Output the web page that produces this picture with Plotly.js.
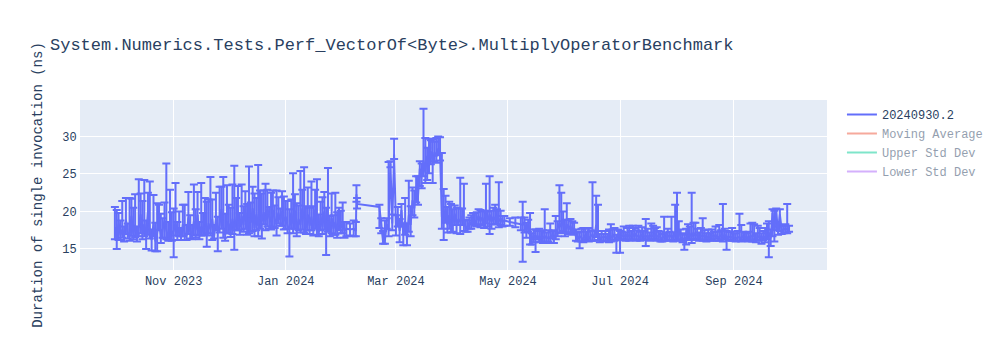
<!DOCTYPE html>
<html>
<head>
<meta charset="utf-8">
<script src="https://cdn.plot.ly/plotly-3.0.1.min.js"></script>
<style>html,body{margin:0;padding:0;background:#fff;}#chart{width:1000px;height:350px;}</style>
</head>
<body>
<div id="chart"></div>
<script>
// Run dates (one point per run)
const dates = [
"2023-09-30","2023-10-01","2023-10-02","2023-10-03","2023-10-04","2023-10-05","2023-10-06","2023-10-07","2023-10-08","2023-10-09","2023-10-10","2023-10-11","2023-10-12","2023-10-13","2023-10-14","2023-10-15","2023-10-16","2023-10-17","2023-10-18","2023-10-19","2023-10-20","2023-10-21","2023-10-22","2023-10-23","2023-10-24","2023-10-25","2023-10-26","2023-10-27","2023-10-28","2023-10-29","2023-10-30","2023-10-31",
"2023-11-01","2023-11-02","2023-11-03","2023-11-04","2023-11-05","2023-11-06","2023-11-07","2023-11-08","2023-11-09","2023-11-10","2023-11-11","2023-11-12","2023-11-13","2023-11-14","2023-11-15","2023-11-16","2023-11-17","2023-11-18","2023-11-19","2023-11-20","2023-11-21","2023-11-22","2023-11-23","2023-11-24","2023-11-25","2023-11-26","2023-11-27","2023-11-28","2023-11-29","2023-11-30",
"2023-12-01","2023-12-02","2023-12-03","2023-12-04","2023-12-05","2023-12-06","2023-12-07","2023-12-08","2023-12-09","2023-12-10","2023-12-11","2023-12-12","2023-12-13","2023-12-14","2023-12-15","2023-12-16","2023-12-17","2023-12-18","2023-12-19","2023-12-20","2023-12-21","2023-12-22","2023-12-23","2023-12-24","2023-12-25","2023-12-26","2023-12-27","2023-12-28","2023-12-29","2023-12-30","2023-12-31",
"2024-01-01","2024-01-02","2024-01-03","2024-01-04","2024-01-05","2024-01-06","2024-01-07","2024-01-08","2024-01-09","2024-01-10","2024-01-11","2024-01-12","2024-01-13","2024-01-14","2024-01-15","2024-01-16","2024-01-17","2024-01-18","2024-01-19","2024-01-20","2024-01-21","2024-01-22","2024-01-23","2024-01-24","2024-01-25","2024-01-26","2024-01-27","2024-01-28","2024-01-29","2024-01-30","2024-01-31",
"2024-02-01","2024-02-02","2024-02-03","2024-02-05","2024-02-07","2024-02-08 04:00","2024-02-08 12:00","2024-02-08 20:00","2024-02-21","2024-02-22","2024-02-23","2024-02-24","2024-02-25","2024-02-26","2024-02-27","2024-02-28","2024-02-29",
"2024-03-01","2024-03-02","2024-03-03","2024-03-04","2024-03-05","2024-03-06","2024-03-07","2024-03-08","2024-03-09","2024-03-10","2024-03-11","2024-03-12","2024-03-13","2024-03-14","2024-03-15","2024-03-16","2024-03-17","2024-03-18","2024-03-19","2024-03-20","2024-03-21","2024-03-22","2024-03-23","2024-03-24","2024-03-25","2024-03-26","2024-03-27","2024-03-28","2024-03-29","2024-03-30","2024-03-31",
"2024-04-01","2024-04-02","2024-04-03","2024-04-04","2024-04-05","2024-04-06","2024-04-07","2024-04-08","2024-04-09","2024-04-10","2024-04-11","2024-04-12","2024-04-13","2024-04-14","2024-04-15","2024-04-16","2024-04-17","2024-04-18","2024-04-19","2024-04-20","2024-04-21","2024-04-22","2024-04-23","2024-04-24","2024-04-25","2024-04-26","2024-04-27","2024-04-28","2024-04-29",
"2024-05-02","2024-05-05","2024-05-08","2024-05-09","2024-05-10","2024-05-11","2024-05-12","2024-05-13","2024-05-14","2024-05-15","2024-05-16","2024-05-17","2024-05-18","2024-05-19","2024-05-20","2024-05-21","2024-05-22","2024-05-23","2024-05-24","2024-05-25","2024-05-26","2024-05-27","2024-05-28","2024-05-29","2024-05-30","2024-05-31",
"2024-06-01","2024-06-02","2024-06-03","2024-06-04","2024-06-05","2024-06-06","2024-06-07","2024-06-08","2024-06-09","2024-06-10","2024-06-11","2024-06-12","2024-06-13","2024-06-14","2024-06-15","2024-06-16","2024-06-17","2024-06-18","2024-06-19","2024-06-20","2024-06-21","2024-06-22","2024-06-23","2024-06-24","2024-06-25","2024-06-26","2024-06-27","2024-06-28","2024-06-29","2024-06-30",
"2024-07-01","2024-07-02","2024-07-03","2024-07-04","2024-07-05","2024-07-06","2024-07-07","2024-07-08","2024-07-09","2024-07-10","2024-07-11","2024-07-12","2024-07-13","2024-07-14","2024-07-15","2024-07-16","2024-07-17","2024-07-18","2024-07-19","2024-07-20","2024-07-21","2024-07-22","2024-07-23","2024-07-24","2024-07-25","2024-07-26","2024-07-27","2024-07-28","2024-07-29","2024-07-30","2024-07-31",
"2024-08-01","2024-08-02","2024-08-03","2024-08-04","2024-08-05","2024-08-06","2024-08-07","2024-08-08","2024-08-09","2024-08-10","2024-08-11","2024-08-12","2024-08-13","2024-08-14","2024-08-15","2024-08-16","2024-08-17","2024-08-18","2024-08-19","2024-08-20","2024-08-21","2024-08-22","2024-08-23","2024-08-24","2024-08-25","2024-08-26","2024-08-27","2024-08-28","2024-08-29","2024-08-30","2024-08-31",
"2024-09-01","2024-09-02","2024-09-03","2024-09-04","2024-09-05","2024-09-06","2024-09-07","2024-09-08","2024-09-09","2024-09-10","2024-09-11","2024-09-12","2024-09-13","2024-09-14","2024-09-15","2024-09-16","2024-09-17","2024-09-18","2024-09-19","2024-09-20","2024-09-21","2024-09-22","2024-09-23","2024-09-24","2024-09-25","2024-09-26","2024-09-27","2024-09-28","2024-09-29","2024-09-30","2024-10-01"
];

// Duration of single invocation (ns)
const durations = [
17.9,16.3,18.6,16.8,17.6,16.5,18.9,17.2,16.6,19.4,17.0,18.2,16.4,17.9,19.6,16.9,18.3,16.6,20.1,17.3,16.2,18.4,16.0,17.1,19.0,16.4,17.6,18.8,17.5,16.6,18.2,17.0,
17.4,18.6,16.8,17.9,16.5,18.3,17.0,16.7,19.2,17.3,16.9,18.7,17.5,19.5,16.8,18.0,17.2,19.8,16.9,18.4,17.6,19.0,16.7,18.9,17.4,18.2,20.3,17.8,16.9,18.6,
18.3,17.2,19.0,17.6,18.8,20.1,17.9,19.4,18.2,20.6,17.5,19.1,18.5,20.4,17.8,19.6,18.1,20.9,18.7,19.9,18.4,20.5,19.2,18.6,20.2,19.0,18.5,19.8,18.9,20.0,18.7,
19.3,18.0,17.6,19.8,18.4,20.1,17.5,19.0,18.2,20.4,18.9,17.8,19.6,18.1,19.3,17.4,20.2,18.5,17.2,19.4,17.9,20.0,17.5,18.8,17.3,19.1,17.7,18.6,17.4,18.9,17.8,
18.6,17.4,17.7,17.6,17.7,17.4,22.3,21.0,20.6,17.9,15.9,16.2,18.3,17.5,26.4,18.4,27.6,
18.0,19.6,17.4,20.2,16.9,18.7,16.4,19.5,18.2,21.5,20.4,23.2,22.0,25.7,24.6,26.8,25.2,27.4,26.1,28.0,26.7,27.9,27.3,28.4,27.8,19.3,18.4,20.6,18.2,19.5,18.0,
18.6,19.7,18.3,19.0,18.6,19.4,18.4,18.0,17.8,18.6,18.3,19.1,18.5,18.9,19.4,18.7,19.2,18.5,19.8,18.8,19.6,18.6,19.3,18.9,19.5,18.7,19.1,18.6,18.8,
18.6,18.5,18.3,18.2,18.4,17.4,18.3,16.6,16.2,16.9,16.4,16.8,16.3,16.6,16.5,16.7,16.4,16.6,16.5,16.8,16.3,16.9,17.6,18.5,17.9,18.8,
17.4,18.3,17.6,18.1,17.3,17.8,16.6,16.4,16.7,16.5,16.3,16.8,16.6,16.4,16.7,16.9,16.5,18.2,16.8,16.4,16.6,16.5,16.7,16.4,16.6,16.5,16.8,16.6,16.4,16.9,
16.6,16.7,16.9,16.5,17.0,16.6,16.8,16.7,17.1,16.6,16.8,16.5,16.9,16.7,16.6,16.8,16.5,16.9,16.7,17.0,16.6,16.8,16.5,16.4,16.7,16.5,16.8,16.6,16.9,16.4,17.3,
16.7,17.5,16.6,16.4,16.3,16.5,16.8,17.0,16.6,17.2,16.7,16.9,16.5,16.8,16.6,16.9,16.4,16.7,16.5,16.8,16.6,16.9,16.5,16.7,16.8,16.6,16.9,16.4,16.7,16.5,16.6,
16.5,16.4,16.5,16.6,16.4,16.7,16.5,16.6,16.4,16.8,16.6,16.9,16.3,16.6,16.8,16.2,16.7,16.5,16.8,17.2,16.4,19.8,17.5,20.0,17.4,19.6,17.6,17.5,17.8,17.6,17.7
];

// Upper error (ns above the point)
const errorPlus = [
2.7,3.9,1.2,2.0,3.8,1.5,2.9,1.2,5.2,2.3,3.5,4.1,1.6,6.4,2.8,4.5,5.9,2.2,2.4,6.7,1.4,3.8,2.5,4.0,1.9,3.3,1.5,2.4,8.9,2.0,4.7,2.9,
3.0,5.2,1.8,2.1,1.3,2.6,3.9,1.5,3.4,2.2,1.3,4.9,2.8,3.1,1.8,5.8,2.6,2.0,4.4,3.2,7.0,2.6,1.5,3.6,1.9,5.1,3.0,6.8,2.8,4.9,
2.6,3.3,4.6,8.5,3.0,3.3,1.9,4.2,2.5,2.1,3.5,6.9,2.7,2.9,4.6,2.2,8.1,1.9,3.7,2.9,5.3,2.4,1.4,3.9,2.6,1.8,4.3,2.1,1.5,2.7,3.3,
2.1,3.4,2.7,1.8,6.7,2.2,3.6,1.8,7.2,2.5,7.0,2.9,3.6,2.4,4.7,3.3,2.7,5.8,2.4,1.9,4.0,2.6,3.0,7.0,2.1,3.3,1.8,3.9,2.5,1.6,2.3,
2.6,1.2,0.9,0.8,1.1,1.2,1.2,0.8,0.3,1.2,1.5,2.6,0.8,9.1,0.3,1.2,2.1,
1.5,1.0,1.6,0.8,1.5,3.1,2.0,4.6,2.5,1.7,2.4,1.5,2.7,1.0,1.8,6.9,4.6,1.1,3.6,1.5,2.9,1.4,2.5,1.6,2.1,8.5,4.6,1.5,2.4,1.8,3.0,
1.7,1.1,2.2,1.4,5.9,1.0,5.3,0.9,1.0,0.6,1.2,0.7,1.3,1.0,0.9,1.5,0.8,1.6,3.9,1.2,5.1,1.5,1.2,2.0,0.8,5.2,1.0,0.8,0.6,
0.5,0.7,0.9,3.1,0.8,1.1,0.6,3.2,0.9,0.7,1.2,0.6,1.4,0.8,1.0,3.6,0.8,0.9,1.9,0.6,1.2,2.5,1.1,5.0,4.6,1.2,
1.5,2.8,1.3,0.9,1.4,0.7,1.0,0.8,0.6,1.2,1.5,0.9,0.7,1.4,0.8,7.0,0.9,3.9,4.1,0.6,0.8,0.5,0.7,0.6,1.0,1.8,0.8,1.2,0.5,0.7,
0.8,0.6,1.1,0.7,0.8,1.5,0.6,1.4,0.7,0.9,1.3,0.8,1.0,0.7,2.4,0.9,0.7,1.5,1.4,0.8,1.3,0.6,0.8,0.6,2.6,0.7,0.9,0.7,2.4,0.8,3.6,
5.8,1.2,1.0,0.7,0.6,1.2,1.5,1.0,5.9,1.3,1.8,0.8,0.7,1.0,2.5,0.6,0.7,0.9,0.6,0.8,0.7,1.1,0.8,1.5,0.7,4.4,0.8,1.0,0.6,0.8,1.2,
0.6,0.7,0.9,3.1,1.8,0.6,0.7,0.5,0.9,1.6,1.9,1.4,0.8,1.5,1.0,0.9,0.7,1.3,1.6,1.5,1.2,0.5,2.6,0.4,0.6,0.7,0.5,0.6,0.5,3.4,0.4
];

// Lower error (ns below the point)
const errorMinus = [
1.6,1.3,2.4,0.6,1.1,0.5,1.9,0.8,0.5,2.6,0.7,1.6,0.4,1.2,2.5,0.6,1.6,1.6,3.2,0.9,1.4,1.7,1.3,2.4,1.5,0.6,1.1,2.3,1.2,0.5,2.0,0.9,
3.5,1.8,0.6,1.2,0.3,1.6,0.8,0.5,2.2,0.9,0.6,1.9,1.0,2.6,0.5,1.2,0.4,2.9,1.6,1.3,0.8,2.8,0.3,1.4,2.7,1.0,2.6,1.3,0.8,1.5,
1.2,0.6,2.0,2.7,1.3,2.6,1.0,1.8,0.9,2.9,0.6,2.0,1.2,3.0,1.1,2.1,1.4,3.2,2.3,1.6,0.9,2.5,1.5,1.0,2.2,1.2,1.7,1.4,0.8,1.9,1.1,
1.6,0.9,3.6,2.1,1.3,2.4,0.8,1.5,1.0,2.8,1.7,0.8,2.1,1.1,1.8,0.6,2.5,1.6,0.5,1.9,0.9,2.4,3.3,1.5,0.6,2.0,0.8,1.7,0.9,1.4,0.7,
1.5,0.9,1.0,0.8,1.0,0.7,1.0,0.6,2.8,0.8,0.2,0.5,0.6,0.8,0.5,0.9,0.6,
1.2,1.6,1.5,2.2,1.4,1.8,0.9,2.2,1.5,2.0,1.2,2.0,1.1,2.3,1.5,2.1,1.4,3.2,1.0,1.7,2.9,1.2,0.8,0.9,1.0,1.6,2.2,2.1,1.0,1.8,0.8,
1.3,1.5,1.2,0.8,1.6,1.2,1.0,0.7,0.5,0.9,0.6,0.8,0.4,0.9,1.1,0.8,1.0,0.7,1.4,0.8,2.6,0.9,1.0,0.6,1.2,0.8,0.9,0.6,0.7,
0.5,0.6,0.8,4.9,1.2,0.9,1.0,1.0,0.6,1.0,1.8,0.5,0.4,0.6,0.7,0.9,0.5,0.6,0.7,0.4,0.5,0.6,0.9,1.3,0.8,1.4,
0.7,1.1,0.6,0.9,0.4,0.8,0.5,0.4,1.6,0.5,0.4,0.6,0.5,0.4,0.6,0.8,0.4,1.6,0.6,0.5,0.5,0.4,0.6,0.4,0.7,0.5,0.6,0.5,1.9,0.6,
2.1,0.5,0.6,0.4,0.7,0.5,0.6,0.5,0.8,0.5,0.6,0.4,0.6,0.5,1.2,0.5,0.4,0.6,0.5,0.7,0.5,0.5,0.5,0.4,0.6,0.4,0.6,0.5,0.7,0.4,1.1,
0.6,1.2,0.5,0.5,1.4,0.9,0.6,0.7,0.8,0.8,0.5,0.7,0.4,0.6,0.5,0.6,0.4,0.5,0.4,0.6,0.5,0.5,0.4,0.6,0.5,0.6,0.5,1.5,0.5,0.4,0.5,
0.4,0.4,0.4,0.5,0.4,0.5,0.4,0.5,0.4,0.5,0.6,0.7,0.4,0.5,0.6,0.5,0.5,0.6,0.5,3.3,1.0,3.1,1.5,2.5,0.5,2.2,0.6,0.4,0.6,0.5,0.4
];

// Hidden (legend-only) helper series, monthly estimates
const statDates = ["2023-10-15","2023-11-15","2023-12-15","2024-01-15","2024-02-15","2024-03-15","2024-04-15","2024-05-15","2024-06-15","2024-07-15","2024-08-15","2024-09-15"];
const movingAverage = [17.6,17.9,19.0,18.6,18.8,22.5,18.9,17.2,16.9,16.7,16.7,17.0];
const upperStd = [19.0,19.3,20.3,20.0,21.5,27.0,19.8,18.5,17.9,17.0,17.1,18.1];
const lowerStd = [16.2,16.5,17.7,17.2,16.1,18.0,18.0,15.9,15.9,16.4,16.3,15.9];

const seriesName = "20240930.2";
const chartTitle = "System.Numerics.Tests.Perf_VectorOf&lt;Byte&gt;.MultiplyOperatorBenchmark";
const yTitle = "Duration of single invocation (ns)";

const traces = [
  {
    type: "scatter", mode: "lines", name: seriesName,
    x: dates, y: durations,
    line: {color: "#636efa", width: 2},
    error_y: {type: "data", symmetric: false, array: errorPlus, arrayminus: errorMinus,
              color: "#636efa", thickness: 2, width: 4}
  },
  {type: "scatter", mode: "lines", name: "Moving Average", x: statDates, y: movingAverage,
   line: {color: "#EF553B"}, visible: "legendonly"},
  {type: "scatter", mode: "lines", name: "Upper Std Dev", x: statDates, y: upperStd,
   line: {color: "#00cc96"}, visible: "legendonly"},
  {type: "scatter", mode: "lines", name: "Lower Std Dev", x: statDates, y: lowerStd,
   line: {color: "#ab63fa"}, visible: "legendonly"}
];

const layout = {
  width: 1000, height: 350,
  font: {family: "Liberation Mono, Courier New, monospace", color: "#2a3f5f", size: 12},
  title: {text: chartTitle, x: 0.05, font: {size: 17}},
  paper_bgcolor: "#ffffff",
  plot_bgcolor: "#E5ECF6",
  margin: {l: 80, r: 80, t: 100, b: 80},
  xaxis: {
    type: "date", range: ["2023-09-11", "2024-10-21 16:00"],
    gridcolor: "white", linecolor: "white", zeroline: false, ticks: "",
    tickformat: "%b %Y", dtick: "M2", tick0: "2023-11-01"
  },
  yaxis: {
    range: [12.2, 34.85],
    title: {text: yTitle, font: {size: 14}},
    gridcolor: "white", linecolor: "white", zerolinecolor: "white", ticks: "",
    dtick: 5
  },
  legend: {font: {size: 12}},
  showlegend: true
};

Plotly.newPlot("chart", traces, layout, {displayModeBar: false});
</script>
</body>
</html>
